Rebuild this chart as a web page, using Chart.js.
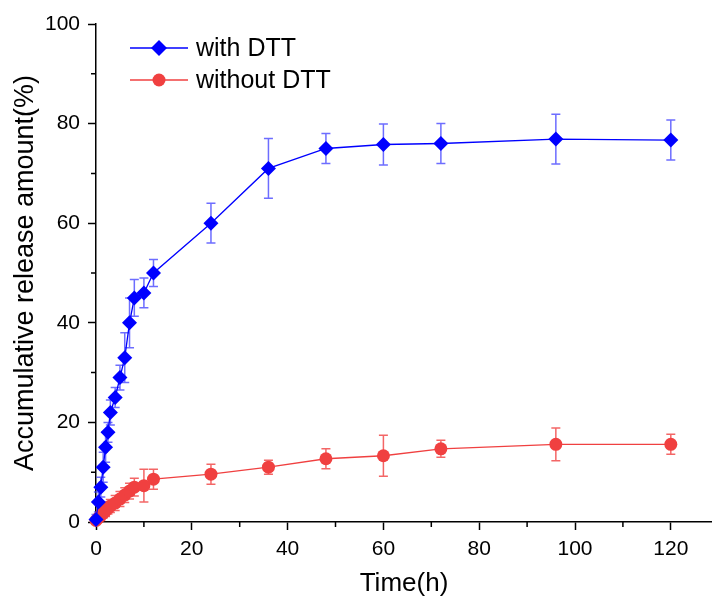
<!DOCTYPE html>
<html>
<head>
<meta charset="utf-8">
<script src="https://cdn.jsdelivr.net/npm/chart.js@4"></script>
<style>
  html, body { margin: 0; padding: 0; background: #fff; }
  #wrap { width: 712px; height: 599px; }
</style>
</head>
<body>
<div id="wrap"><canvas id="chartRelease" width="712" height="599"></canvas></div>
<script>
/* data */
const times = [0, 0.5, 1, 1.5, 2, 2.5, 3, 4, 5, 6, 7, 8, 10, 12, 24, 36, 48, 60, 72, 96, 120];
const withDTT = [0.5, 4, 7, 11, 15, 18, 22, 25, 29, 33, 40, 45, 46, 50, 60, 71, 75, 75.8, 76, 76.9, 76.7];
const withDTTErr = [1, 2, 2, 3, 3, 2, 2.5, 2, 2.5, 5, 5, 3.7, 3, 2.7, 4, 6, 3, 4.1, 4, 5, 4];
const withoutDTT = [0.3, 0.8, 1.3, 1.8, 2.3, 2.8, 3.2, 3.8, 4.6, 5.4, 6.2, 7, 7.3, 8.6, 9.6, 11, 12.7, 13.3, 14.7, 15.6, 15.6];
const withoutDTTErr = [0.5, 0.8, 1, 1, 1.2, 1.2, 1.3, 1.5, 1.5, 1.5, 1.6, 1.8, 3.3, 2, 2, 1.4, 2, 4.1, 1.7, 3.3, 2];
const xTicks = [0, 10, 20, 30, 40, 50, 60, 70, 80, 90, 100, 110, 120];

const BLUE = '#0000ff';
const RED = 'rgb(240,64,64)';
const FONT = '"Liberation Sans", Arial, sans-serif';

function toPoints(ys) {
    return times.map((t, i) => ({ x: t, y: ys[i] }));
}

/* error bars, drawn under the markers */
const errorBars = {
    id: 'errorBars',
    beforeDatasetsDraw(chart) {
        const c = chart.ctx;
        const xs = chart.scales.x, ys = chart.scales.y;
        chart.data.datasets.forEach(ds => {
            c.save();
            c.strokeStyle = ds.errColor;
            c.lineWidth = 1.5;
            ds.errors.forEach((e, i) => {
                const px = xs.getPixelForValue(times[i]);
                const v = ds.data[i].y;
                const top = ys.getPixelForValue(v + e);
                const bot = ys.getPixelForValue(Math.max(v - e, 0));
                c.beginPath();
                c.moveTo(px, top); c.lineTo(px, bot);
                c.moveTo(px - 4.5, top); c.lineTo(px + 4.5, top);
                c.moveTo(px - 4.5, bot); c.lineTo(px + 4.5, bot);
                c.stroke();
            });
            c.restore();
        });
    }
};

/* short minor ticks */
const minorTicks = {
    id: 'minorTicks',
    afterDraw(chart) {
        const c = chart.ctx;
        const xs = chart.scales.x, ys = chart.scales.y;
        c.save();
        c.strokeStyle = '#000';
        c.lineWidth = 1.5;
        c.beginPath();
        for (let v = 10; v <= 120; v += 20) {
            const px = xs.getPixelForValue(v);
            c.moveTo(px, ys.bottom); c.lineTo(px, ys.bottom + 5);
        }
        for (let v = 10; v <= 90; v += 20) {
            const py = ys.getPixelForValue(v);
            c.moveTo(xs.left, py); c.lineTo(xs.left - 5, py);
        }
        c.stroke();
        c.restore();
    }
};

/* legend inside the plot, line + marker */
const insideLegend = {
    id: 'insideLegend',
    afterDraw(chart) {
        const c = chart.ctx;
        chart.data.datasets.forEach((ds, i) => {
            const y = 48 + i * 32;
            c.save();
            c.strokeStyle = ds.borderColor;
            c.lineWidth = 1.5;
            c.beginPath();
            c.moveTo(130, y); c.lineTo(188, y);
            c.stroke();
            c.fillStyle = ds.backgroundColor;
            c.beginPath();
            if (ds.pointStyle === 'rectRot') {
                c.moveTo(159, y - 8); c.lineTo(167, y); c.lineTo(159, y + 8); c.lineTo(151, y);
                c.closePath();
            } else {
                c.arc(159, y, 6.5, 0, Math.PI * 2);
            }
            c.fill();
            c.fillStyle = '#000';
            c.font = '25px ' + FONT;
            c.textBaseline = 'middle';
            c.fillText(ds.label, 196, y + 1);
            c.restore();
        });
    }
};

const ctx = document.getElementById('chartRelease').getContext('2d');
const chartRelease = new Chart(ctx, {
    type: 'line',
    data: {
        datasets: [
            {
                label: 'with DTT',
                data: toPoints(withDTT),
                errors: withDTTErr,
                errColor: 'rgba(60,60,255,0.75)',
                borderColor: BLUE,
                backgroundColor: BLUE,
                borderWidth: 1.3,
                pointStyle: 'rectRot',
                pointRadius: 7.5,
                pointHoverRadius: 7.5,
                pointBorderWidth: 0,
                tension: 0,
                clip: false
            },
            {
                label: 'without DTT',
                data: toPoints(withoutDTT),
                errors: withoutDTTErr,
                errColor: 'rgba(240,64,64,0.8)',
                borderColor: RED,
                backgroundColor: RED,
                borderWidth: 1.3,
                pointStyle: 'circle',
                pointRadius: 6.5,
                pointHoverRadius: 6.5,
                pointBorderWidth: 0,
                tension: 0,
                clip: false
            }
        ]
    },
    options: {
        responsive: false,
        animation: false,
        layout: { autoPadding: false, padding: { top: 24, right: 0, bottom: 0, left: 0 } },
        plugins: {
            legend: { display: false },
            tooltip: { enabled: false }
        },
        scales: {
            x: {
                type: 'linear',
                min: 0,
                max: 128.6,
                afterBuildTicks: s => { s.ticks = xTicks.map(v => ({ value: v })); },
                afterFit: s => { s.height = 77; },
                ticks: {
                    color: '#000',
                    font: { family: FONT, size: 21 },
                    padding: 7,
                    maxRotation: 0,
                    autoSkip: false,
                    callback: v => (v % 20 === 0 ? v : '')
                },
                grid: {
                    drawOnChartArea: false,
                    tickLength: 8,
                    tickWidth: 1.5,
                    tickColor: c => (c.tick && c.tick.value % 20 === 0 ? '#000' : 'rgba(0,0,0,0)')
                },
                border: { color: '#000', width: 1.5 },
                title: {
                    display: true,
                    text: 'Time(h)',
                    color: '#000',
                    font: { family: FONT, size: 26 },
                    padding: { top: 1, bottom: 0 }
                }
            },
            y: {
                min: 0,
                max: 100,
                afterFit: s => { s.width = 96; },
                ticks: {
                    stepSize: 10,
                    color: '#000',
                    font: { family: FONT, size: 21 },
                    padding: 8,
                    callback: v => (v % 20 === 0 ? v : '')
                },
                grid: {
                    drawOnChartArea: false,
                    tickLength: 8,
                    tickWidth: 1.5,
                    tickColor: c => (c.tick && c.tick.value % 20 === 0 ? '#000' : 'rgba(0,0,0,0)')
                },
                border: { color: '#000', width: 1.5 },
                title: {
                    display: true,
                    text: 'Accumulative release amount(%)',
                    color: '#000',
                    font: { family: FONT, size: 27 },
                    padding: { top: 9, bottom: 0 }
                }
            }
        }
    },
    plugins: [errorBars, minorTicks, insideLegend]
});
</script>
</body>
</html>
